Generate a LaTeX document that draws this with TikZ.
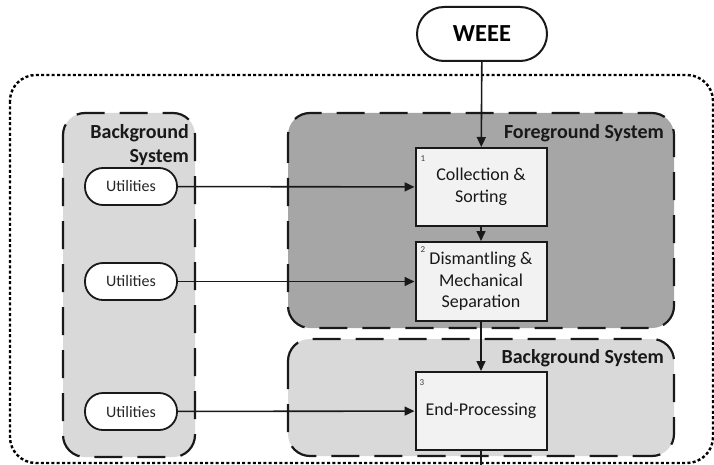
\documentclass[tikz,border=0pt]{standalone}
\usepackage{fontspec}
\setmainfont{Carlito}
\usetikzlibrary{arrows.meta}
\definecolor{fgfill}{RGB}{166,166,166}
\definecolor{bgfill}{RGB}{217,217,217}
\definecolor{boxfill}{RGB}{242,242,242}
\begin{document}
\begin{tikzpicture}[x=1pt,y=-1pt,
 panel/.style={draw=black!90, line width=2.2pt, dash pattern=on 28pt off 15pt, rounded corners=22pt},
 proc/.style={draw=black!90, line width=2pt, fill=boxfill, minimum width=131pt, inner sep=0pt, align=center, font=\fontsize{18}{21.5}\selectfont, text=black!90},
 util/.style={draw=black!90, line width=1.8pt, fill=white, rounded corners=18pt, minimum width=92pt, minimum height=37pt, inner sep=0pt, font=\fontsize{16}{19}\selectfont, text=black!85},
 term/.style={draw=black!90, line width=2pt, fill=white, rounded corners=27pt, minimum width=130pt, minimum height=54pt, inner sep=0pt, font=\bfseries\fontsize{24.5}{28}\selectfont},
 lbl/.style={font=\bfseries\fontsize{20}{24}\selectfont, inner sep=0pt, align=right, text=black!90},
 num/.style={font=\fontsize{9}{10}\selectfont, inner sep=0pt, text=black!75},
 flow/.style={line width=1.6pt, draw=black!90, -{Triangle[length=10pt,width=9pt]}}
]
\useasboundingbox (0,0) rectangle (714,465);
% outer dotted boundary
\draw[line width=2.4pt, dash pattern=on 3pt off 2.3pt, rounded corners=26pt] (10,75) rectangle (713,463);
% panels
\draw[panel, fill=bgfill] (63,113) rectangle (195,457);
\draw[panel, fill=fgfill] (288,113) rectangle (674,328);
\draw[panel, fill=bgfill] (288,339) rectangle (674,456);
% labels
\node[lbl, anchor=east] (leftlbl) at (189,145) {Background\\System};
\node[lbl, anchor=east] (fglbl) at (664,133) {Foreground System};
\node[lbl, anchor=east] (bglbl) at (664,358) {Background System};
% nodes
\node[term] (weee) at (482,34) {WEEE};
\node[proc, minimum height=78pt] (p1) at (481,187) {Collection \&\\Sorting};
\node[proc, minimum height=79pt] (p2) at (481,281.5) {Dismantling \&\\Mechanical\\Separation};
\node[proc, minimum height=78pt] (p3) at (481,411) {End-Processing};
\node[num] (n1) at (423,159) {1};
\node[num] (n2) at (423,250) {2};
\node[num] (n3) at (422,383) {3};
\node[util] (u1) at (131,186.5) {Utilities};
\node[util] (u2) at (131,281.5) {Utilities};
\node[util] (u3) at (131,411.5) {Utilities};
\coordinate (out) at (481,465);
% connectors
\draw[flow] (weee) -- (p1);
\draw[flow] (p1) -- (p2);
\draw[flow] (p2) -- (p3);
\draw[line width=1.6pt, draw=black!90] (p3) -- (out);
\draw[flow] (u1) -- (p1);
\draw[flow] (u2) -- (p2);
\draw[flow] (u3) -- (p3);
\end{tikzpicture}
\end{document}
